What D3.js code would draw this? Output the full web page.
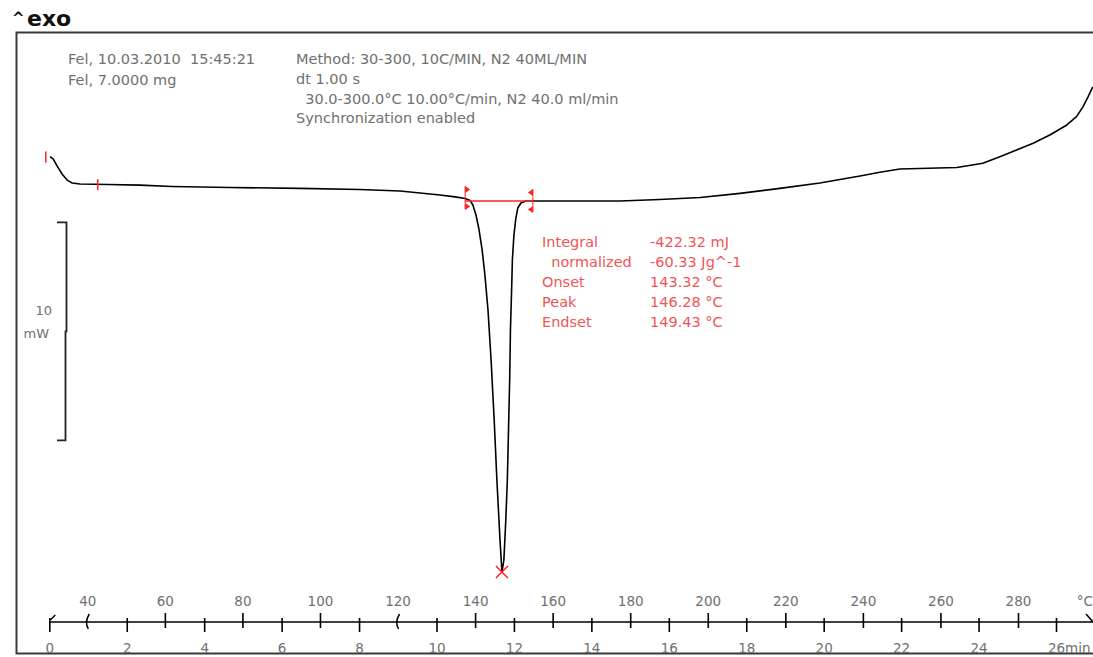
<!DOCTYPE html>
<html><head><meta charset="utf-8">
<script src="https://cdn.jsdelivr.net/npm/d3@7"></script>
<style>
body{margin:0;background:#fff;}
svg{display:block;font-family:"DejaVu Sans",Verdana,sans-serif;}
</style></head><body>
<svg id="c" width="1093" height="657"></svg>
<script>
// ---- data (time in min, heat flow in mW, exo up) ----
const timeMin = [0.02,0.10,0.20,0.33,0.46,0.59,0.79,1.52,2.34,3.17,4.67,6.47,8.02,9.06,10.09,10.48,10.74,10.87,
  10.94,11.02,11.10,11.18,11.25,11.33,11.41,11.49,11.56,11.64,11.69,
  11.74,11.79,11.83,11.86,11.89,11.91,11.94,11.96,12.00,12.05,12.10,12.18,12.31,
  13.45,14.74,15.77,16.81,17.84,18.87,19.90,20.94,21.45,21.97,23.44,24.11,24.55,24.98,25.41,25.84,26.28,26.53,26.70,26.83,26.95];
const heatFlow = [0.02,-0.09,-0.41,-0.78,-1.06,-1.19,-1.24,-1.26,-1.29,-1.35,-1.40,-1.44,-1.49,-1.56,-1.74,-1.83,-1.90,-2.00,
  -2.20,-2.66,-3.35,-4.27,-5.41,-7.02,-9.31,-12.06,-14.82,-17.57,-19.04,
  -18.49,-16.65,-14.82,-12.52,-10.23,-7.94,-6.10,-4.72,-3.58,-2.80,-2.34,-2.11,-2.02,
  -2.02,-2.02,-1.95,-1.86,-1.67,-1.44,-1.19,-0.87,-0.70,-0.55,-0.48,-0.29,0.01,0.32,0.63,1.01,1.47,1.85,2.31,2.77,3.22];
const timeTicks = [0,2,4,6,8,10,12,14,16,18,20,22,24,26];
const tempTicks = [40,60,80,100,120,140,160,180,200,220,240,260,280];
const tempBreaks = [40,120];
const infoLeft = ["Fel, 10.03.2010  15:45:21","Fel, 7.0000 mg"];
const infoRight = ["Method: 30-300, 10C/MIN, N2 40ML/MIN","dt 1.00 s","  30.0-300.0\u00B0C 10.00\u00B0C/min, N2 40.0 ml/min","Synchronization enabled"];
const resultLabels = ["Integral","  normalized","Onset","Peak","Endset"];
const resultValues = ["-422.32 mJ","-60.33 Jg^-1","143.32 \u00B0C","146.28 \u00B0C","149.43 \u00B0C"];
const peakPoint = [11.69,-19.04];
const integLimits = [10.74,12.49];
const integBaseline = -2.02;
const evalLimits = [-0.09,1.25];
const scaleBar = [-3,-13]; // 10 mW

// ---- layout ----
const svg = d3.select("#c");
const x = d3.scaleLinear().domain([0,26]).range([49.3,1056]);
const xT = d3.scaleLinear().domain([30.2,289.8]).range([49.3,1056]);
const y = d3.scaleLinear().domain([0,-10]).range([157,375]);
const axisY = 622;
const grey = "#707070", red = "#ff2020", redTxt = "#f05555";

// header
svg.append("text").attr("x",12).attr("y",23).attr("font-size",15).attr("font-weight","bold").attr("fill","#111").text("^");
svg.append("text").attr("x",27).attr("y",26).attr("font-size",22).attr("font-weight","bold").attr("fill","#111").text("exo");

// frame
svg.append("path").attr("d","M1093,32.5H16.5V653.5H1093").attr("fill","none").attr("stroke","#3a3a3a").attr("stroke-width",2);

// info texts
const info = svg.append("g").attr("font-size",14.5).attr("fill",grey);
infoLeft.forEach((s,i)=>info.append("text").attr("x",68).attr("y",64+i*20.5).style("white-space","pre").text(s));
infoRight.forEach((s,i)=>info.append("text").attr("x",296).attr("y",64+i*19.8).style("white-space","pre").text(s));

// results
const res = svg.append("g").attr("font-size",14.5).attr("fill",redTxt);
resultLabels.forEach((s,i)=>res.append("text").attr("x",542).attr("y",247+i*20).style("white-space","pre").text(s));
resultValues.forEach((s,i)=>res.append("text").attr("x",650).attr("y",247+i*20).text(s));

// curve
const pts = timeMin.map((t,i)=>[t,heatFlow[i]]);
svg.append("path").datum(pts)
  .attr("d",d3.line().x(d=>x(d[0])).y(d=>y(d[1])))
  .attr("fill","none").attr("stroke","#000").attr("stroke-width",1.6).attr("stroke-linejoin","round");

// evaluation limits
evalLimits.forEach((t,i)=>{
  const v = i===0 ? heatFlow[0] : -1.25;
  svg.append("line").attr("x1",x(t)).attr("x2",x(t)).attr("y1",y(v)-5).attr("y2",y(v)+6).attr("stroke",red).attr("stroke-width",1.5);
});

// integration baseline + flags
const yb = y(integBaseline);
svg.append("line").attr("x1",x(integLimits[0])).attr("x2",x(integLimits[1])).attr("y1",yb).attr("y2",yb).attr("stroke",red).attr("stroke-width",1.5);
integLimits.forEach((t,i)=>{
  const xx = x(t), dir = i===0?1:-1, off = i===0?0:3;
  svg.append("line").attr("x1",xx).attr("x2",xx).attr("y1",yb-15+off).attr("y2",yb+8+off).attr("stroke",red).attr("stroke-width",1);
  [[yb-15+off,yb-8+off],[yb+2+off,yb+9+off]].forEach(([a,b])=>{
    svg.append("path").attr("d",`M${xx},${a}L${xx+dir*5},${(a+b)/2}L${xx},${b}Z`).attr("fill",red);
  });
});

// peak marker
const px = x(peakPoint[0]), py = y(peakPoint[1]);
svg.append("path").attr("d",`M${px-6},${py-6}L${px+6},${py+6}M${px-6},${py+6}L${px+6},${py-6}`).attr("stroke",red).attr("stroke-width",1.5);

// scale bar
const sbX = 66.5;
svg.append("path").attr("d",`M57,${y(scaleBar[0])}H${sbX}V${(y(scaleBar[0])+y(scaleBar[1]))/2}H${sbX-1}V${y(scaleBar[1])}H57`)
  .attr("fill","none").attr("stroke","#222").attr("stroke-width",1.8);
svg.append("text").attr("x",52).attr("y",315).attr("text-anchor","end").attr("font-size",13).attr("fill",grey).text("10");
svg.append("text").attr("x",49).attr("y",338).attr("text-anchor","end").attr("font-size",13).attr("fill",grey).text("mW");

// axes
svg.append("line").attr("x1",x(0)).attr("x2",1093).attr("y1",axisY).attr("y2",axisY).attr("stroke","#000").attr("stroke-width",1.6);

const tempUp = svg.append("g").attr("transform",`translate(0,${axisY})`)
  .call(d3.axisTop(xT).tickValues(tempTicks).tickSize(9).tickPadding(7).tickSizeOuter(0));
const tempDown = svg.append("g").attr("transform",`translate(0,${axisY})`)
  .call(d3.axisBottom(xT).tickValues(tempTicks).tickSize(6).tickSizeOuter(0).tickFormat(""));
const timeDown = svg.append("g").attr("transform",`translate(0,${axisY})`)
  .call(d3.axisBottom(x).tickValues(timeTicks).tickSize(10).tickPadding(11.4).tickSizeOuter(0));
const timeUp = svg.append("g").attr("transform",`translate(0,${axisY})`)
  .call(d3.axisTop(x).tickValues(timeTicks).tickSize(4).tickSizeOuter(0).tickFormat(""));
[tempUp,tempDown,timeDown,timeUp].forEach(g=>{
  g.select(".domain").remove();
  g.attr("font-family","DejaVu Sans").attr("font-size",13.5);
  g.selectAll(".tick line").attr("stroke","#000").attr("stroke-width",1.6);
  g.selectAll(".tick text").attr("fill",grey);
});
// break marks replace straight temp ticks
[tempUp,tempDown].forEach(g=>g.selectAll(".tick").filter(d=>tempBreaks.includes(d)).select("line").remove());
tempBreaks.forEach(T=>{
  const xx = xT(T);
  svg.append("path").attr("d",`M${xx+2},${axisY-8}Q${xx-3},${axisY} ${xx+1},${axisY+7}`)
    .attr("fill","none").attr("stroke","#000").attr("stroke-width",1.5);
});
// start mark
svg.append("line").attr("x1",x(0)+1).attr("y1",axisY-2).attr("x2",x(0)+6).attr("y2",axisY-7).attr("stroke","#000").attr("stroke-width",1.5);
// axis unit labels
svg.append("text").attr("x",1093).attr("y",606).attr("text-anchor","end").attr("font-size",13.5).attr("fill",grey).text("\u00B0C");
svg.append("text").attr("x",x(26)+9).attr("y",653).attr("font-size",13.5).attr("fill",grey).text("min");
// arrow head
svg.append("path").attr("d",`M1086,${axisY-8}L1093,${axisY}`).attr("stroke","#000").attr("stroke-width",1.5);
</script>
</body></html>
